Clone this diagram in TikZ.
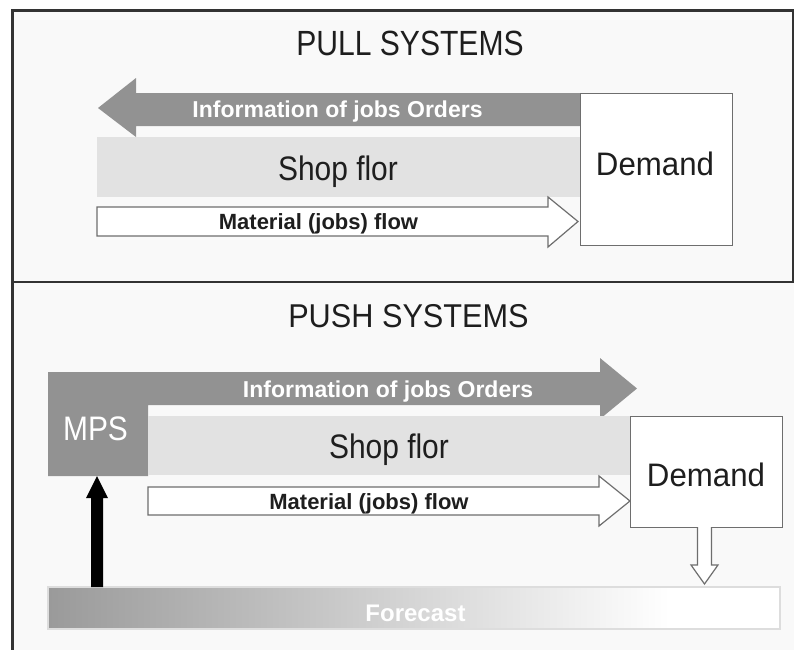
\documentclass[tikz,border=0pt]{standalone}
\usepackage{fontspec}
\setmainfont{Liberation Sans}
\usepackage{graphicx}
\definecolor{infog}{HTML}{929292}
\definecolor{shopg}{HTML}{E2E2E2}
\definecolor{edgeg}{HTML}{6E6E6E}
\definecolor{framec}{HTML}{333333}
\definecolor{panelbg}{HTML}{F9F9F9}
\definecolor{textc}{HTML}{1E1E1E}
\definecolor{lightg}{HTML}{DDDDDD}
\definecolor{fcleft}{HTML}{9A9A9A}
\newcommand{\hsq}[2]{\scalebox{#1}[1]{#2}}
\begin{document}
\begin{tikzpicture}[x=0.75pt,y=-0.75pt,
  frameline/.style={draw=framec,line width=1.6pt},
  infoarrow/.style={fill=infog,draw=none},
  matarrow/.style={fill=white,draw=edgeg,line width=0.9pt,line join=miter},
  demandbox/.style={draw=edgeg,fill=white,line width=0.9pt},
  shopbox/.style={fill=shopg,draw=none},
  txt/.style={anchor=base,inner sep=0pt,text=textc},
  ttl/.style={txt,font=\fontsize{26.25}{30}\selectfont},
  infotxt/.style={txt,text=white,font=\bfseries\fontsize{17.25}{20}\selectfont},
  mattxt/.style={txt,font=\bfseries\fontsize{16.5}{20}\selectfont},
  shoptxt/.style={txt,font=\fontsize{25.5}{30}\selectfont},
  demtxt/.style={txt,font=\fontsize{24.4}{30}\selectfont}]
\useasboundingbox (0,0) rectangle (794,650);
% backgrounds
\fill[white] (0,0) rectangle (794,650);
\fill[panelbg] (12,10) rectangle (794,650);
% frame
\draw[frameline] (12.5,650) -- (12.5,10.5) -- (793,10.5) -- (793,282);
\draw[frameline,line width=2.2pt] (12,282) -- (794,282);

% ---------------- PULL ----------------
\node[ttl] (pulltitle) at (410,55) {\hsq{0.86}{PULL SYSTEMS}};
\fill[infoarrow] (581,93) -- (136,93) -- (136,78) -- (98,108) -- (136,137) -- (136,126) -- (581,126) -- cycle;
\node[infotxt] (pullinfo) at (337.5,117) {Information of jobs Orders};
\node[shopbox,anchor=north west,minimum width=483*0.75pt,minimum height=60*0.75pt,inner sep=0pt] (pullshop) at (97,137) {};
\node[shoptxt] (pullshoptxt) at (338,180) {\hsq{0.88}{Shop flor}};
\draw[matarrow] (97,207) -- (548,207) -- (548,197) -- (578,221.5) -- (548,247) -- (548,236) -- (97,236) -- cycle;
\node[mattxt] (pullmat) at (318.5,229) {Material (jobs) flow};
\node[demandbox,anchor=north west,minimum width=152*0.75pt,minimum height=152*0.75pt,inner sep=0pt] (pulldemand) at (580,93) {};
\node[demtxt] (pulldemtxt) at (655,175) {\hsq{0.96}{Demand}};

% ---------------- PUSH ----------------
\node[ttl,font=\fontsize{24.75}{30}\selectfont] (pushtitle) at (408.5,327) {\hsq{0.93}{PUSH SYSTEMS}};
\fill[infoarrow] (48,372) -- (600,372) -- (600,358) -- (637,388.5) -- (600,419) -- (600,405) -- (148,405) -- (148,476) -- (48,476) -- cycle;
\node[infotxt] (pushinfo) at (388,397) {Information of jobs Orders};
\node[txt,text=white,font=\fontsize{25.5}{30}\selectfont] (mps) at (95.5,440) {\hsq{0.88}{MPS}};
\node[shopbox,anchor=north west,minimum width=482*0.75pt,minimum height=59*0.75pt,inner sep=0pt] (pushshop) at (148,416) {};
\node[shoptxt] (pushshoptxt) at (389,458) {\hsq{0.88}{Shop flor}};
\draw[matarrow] (148,487) -- (599,487) -- (599,476) -- (630,501) -- (599,526) -- (599,515) -- (148,515) -- cycle;
\node[mattxt] (pushmat) at (369,509) {Material (jobs) flow};
\node[demandbox,anchor=north west,minimum width=152*0.75pt,minimum height=111*0.75pt,inner sep=0pt] (pushdemand) at (630,416) {};
\node[demtxt] (pushdemtxt) at (706,486.5) {\hsq{0.96}{Demand}};
% hollow down arrow
\draw[matarrow] (697.5,527) -- (697.5,565) -- (691,565) -- (704.5,584) -- (718,565) -- (711.5,565) -- (711.5,527);
% forecast bar
\shade[left color=fcleft, right color=white] (48,587) rectangle (670,629);
\fill[white] (670,587) rectangle (780,629);
\draw[lightg,line width=0.8pt] (48,587) rectangle (780,629);
\node[txt,text=white,font=\bfseries\fontsize{18}{22}\selectfont] (forecast) at (415.5,621) {Forecast};
% black up arrow
\fill[black] (91,587) -- (91,498) -- (86,498) -- (97,476) -- (108,498) -- (103,498) -- (103,587) -- cycle;
\end{tikzpicture}
\end{document}
